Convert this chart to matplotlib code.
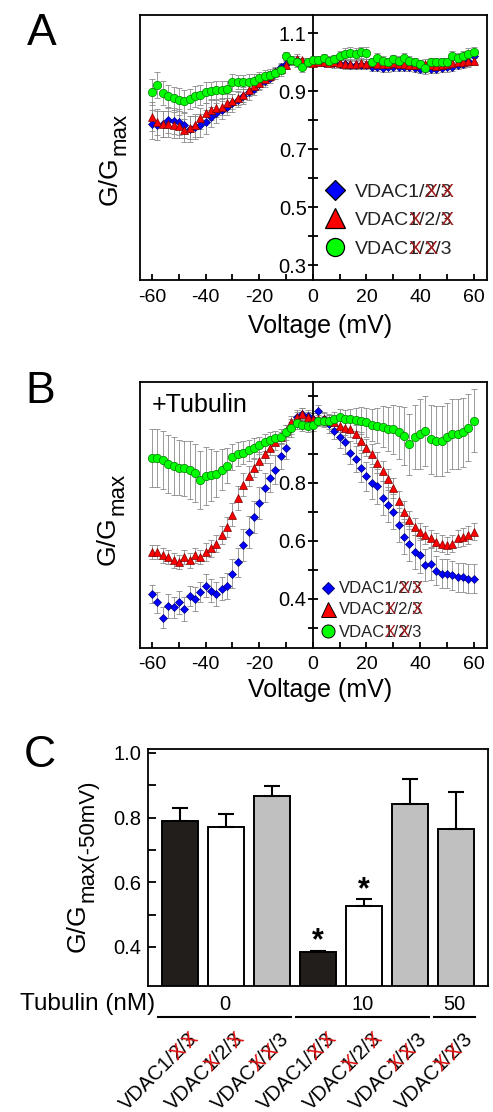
import numpy as np
import matplotlib
matplotlib.use("Agg")
import matplotlib.pyplot as plt
import matplotlib.transforms as mtransforms
from matplotlib.ticker import MultipleLocator, FixedLocator
from matplotlib.textpath import TextToPath
from matplotlib.font_manager import FontProperties

FONT = 'Liberation Sans'
plt.rcParams['font.family'] = [FONT, 'DejaVu Sans']
plt.rcParams['axes.unicode_minus'] = False

# --- voltage protocol (mV) ---
voltage = np.arange(-60, 61, 2)

# --- Panel A: no tubulin, G/Gmax ---
ga_v1 = [0.786, 0.782, 0.788, 0.800, 0.798, 0.794, 0.782, 0.770, 0.776, 0.782,
         0.794, 0.812, 0.824, 0.835, 0.847, 0.859, 0.871, 0.882, 0.896, 0.908,
         0.924, 0.935, 0.947, 0.965, 0.982, 0.994, 1.006, 1.008, 1.000, 1.000,
         1.000, 1.000, 0.998, 1.000, 0.996, 0.995, 0.993, 0.990, 0.990, 0.992,
         0.990, 0.985, 0.983, 0.980, 0.982, 0.984, 0.985, 0.985, 0.983, 0.980,
         0.978, 0.976, 0.977, 0.978, 0.980, 0.982, 0.985, 0.990, 0.995, 1.005,
         1.020]
ga_v2 = [0.812, 0.794, 0.788, 0.786, 0.782, 0.779, 0.765, 0.774, 0.782, 0.806,
         0.824, 0.835, 0.841, 0.847, 0.859, 0.865, 0.876, 0.888, 0.904, 0.918,
         0.929, 0.941, 0.953, 0.965, 0.976, 0.990, 1.006, 1.012, 1.006, 1.000,
         0.998, 1.000, 1.002, 0.998, 1.000, 0.997, 0.995, 0.993, 0.995, 0.997,
         0.995, 0.996, 0.995, 0.993, 0.995, 0.997, 0.995, 0.993, 0.990, 0.990,
         0.993, 0.995, 0.990, 0.988, 0.990, 0.995, 0.998, 1.000, 1.000, 1.003,
         1.005]
ga_v3 = [0.896, 0.920, 0.894, 0.882, 0.876, 0.870, 0.865, 0.873, 0.882, 0.888,
         0.896, 0.902, 0.904, 0.904, 0.906, 0.930, 0.932, 0.932, 0.933, 0.935,
         0.947, 0.953, 0.955, 0.962, 0.974, 1.021, 1.006, 1.000, 0.982, 1.000,
         1.006, 1.008, 1.013, 1.005, 1.010, 1.022, 1.028, 1.032, 1.028, 1.034,
         1.032, 1.000, 1.016, 1.005, 1.000, 1.010, 1.005, 1.016, 1.005, 1.000,
         0.993, 0.981, 1.001, 1.000, 1.001, 1.000, 1.022, 1.016, 1.022, 1.028,
         1.034]
ga_e1 = [0.05, 0.05, 0.045, 0.045, 0.045, 0.045, 0.045, 0.045, 0.04, 0.04,
         0.04, 0.035, 0.035, 0.03, 0.03, 0.03, 0.025, 0.025, 0.025, 0.02,
         0.02, 0.02, 0.02, 0.015, 0.015, 0.015, 0.015, 0.015, 0.015, 0.015,
         0.01, 0.01, 0.01, 0.01, 0.015, 0.015, 0.015, 0.015, 0.015, 0.015,
         0.015, 0.015, 0.015, 0.015, 0.015, 0.015, 0.015, 0.015, 0.015, 0.015,
         0.015, 0.015, 0.015, 0.015, 0.015, 0.015, 0.015, 0.015, 0.015, 0.02,
         0.02]
ga_e2 = [0.05, 0.045, 0.045, 0.045, 0.045, 0.04, 0.04, 0.04, 0.04, 0.035,
         0.035, 0.035, 0.03, 0.03, 0.03, 0.025, 0.025, 0.025, 0.02, 0.02,
         0.02, 0.02, 0.015, 0.015, 0.015, 0.015, 0.015, 0.015, 0.01, 0.01,
         0.01, 0.01, 0.01, 0.01, 0.01, 0.01, 0.015, 0.015, 0.015, 0.015,
         0.015, 0.015, 0.015, 0.015, 0.015, 0.015, 0.015, 0.015, 0.015, 0.015,
         0.015, 0.015, 0.015, 0.015, 0.015, 0.015, 0.015, 0.015, 0.015, 0.015,
         0.015]
ga_e3 = [0.045, 0.045, 0.04, 0.04, 0.04, 0.04, 0.04, 0.035, 0.035, 0.035,
         0.035, 0.03, 0.03, 0.03, 0.03, 0.03, 0.025, 0.025, 0.025, 0.025,
         0.02, 0.02, 0.02, 0.02, 0.02, 0.015, 0.015, 0.015, 0.015, 0.015,
         0.015, 0.015, 0.015, 0.015, 0.015, 0.015, 0.02, 0.02, 0.02, 0.02,
         0.02, 0.015, 0.015, 0.015, 0.015, 0.015, 0.015, 0.015, 0.015, 0.015,
         0.015, 0.015, 0.015, 0.015, 0.015, 0.015, 0.015, 0.015, 0.015, 0.02,
         0.02]

# --- Panel B: +tubulin, G/Gmax ---
gb_v1 = [0.417, 0.388, 0.336, 0.376, 0.371, 0.388, 0.365, 0.411, 0.400, 0.423,
         0.446, 0.429, 0.417, 0.435, 0.446, 0.487, 0.527, 0.585, 0.632, 0.684,
         0.730, 0.783, 0.817, 0.846, 0.893, 0.922, 0.990, 1.026, 1.038, 1.030,
         1.020, 1.047, 1.020, 1.003, 0.980, 0.957, 0.940, 0.904, 0.881, 0.852,
         0.823, 0.800, 0.788, 0.748, 0.725, 0.701, 0.655, 0.614, 0.591, 0.562,
         0.550, 0.516, 0.521, 0.498, 0.487, 0.487, 0.481, 0.475, 0.475, 0.469,
         0.469]
gb_v2 = [0.562, 0.562, 0.550, 0.545, 0.533, 0.527, 0.545, 0.533, 0.550, 0.545,
         0.562, 0.574, 0.591, 0.620, 0.649, 0.690, 0.748, 0.794, 0.823, 0.852,
         0.875, 0.899, 0.922, 0.940, 0.957, 0.980, 1.009, 1.026, 1.038, 1.026,
         1.020, 1.020, 1.020, 1.015, 1.009, 0.997, 0.990, 0.985, 0.968, 0.945,
         0.922, 0.899, 0.870, 0.840, 0.812, 0.783, 0.736, 0.701, 0.672, 0.649,
         0.632, 0.620, 0.609, 0.597, 0.591, 0.585, 0.591, 0.609, 0.614, 0.620,
         0.632]
gb_v3 = [0.885, 0.887, 0.880, 0.866, 0.858, 0.852, 0.850, 0.846, 0.835, 0.810,
         0.823, 0.827, 0.830, 0.846, 0.860, 0.890, 0.900, 0.904, 0.912, 0.920,
         0.930, 0.940, 0.947, 0.954, 0.960, 0.974, 0.990, 1.005, 1.000, 0.997,
         1.000, 1.015, 1.012, 1.012, 1.020, 1.026, 1.020, 1.020, 1.018, 1.015,
         1.009, 1.000, 0.997, 0.994, 0.985, 0.985, 0.974, 0.962, 0.933, 0.957,
         0.968, 0.980, 0.950, 0.945, 0.945, 0.957, 0.968, 0.968, 0.974, 0.990,
         1.015]
gb_e1 = [0.03, 0.035, 0.035, 0.04, 0.035, 0.04, 0.04, 0.035, 0.04, 0.035,
         0.04, 0.04, 0.04, 0.04, 0.045, 0.05, 0.05, 0.055, 0.055, 0.055,
         0.055, 0.05, 0.05, 0.05, 0.045, 0.04, 0.03, 0.025, 0.02, 0.02,
         0.02, 0.02, 0.025, 0.03, 0.03, 0.035, 0.04, 0.04, 0.045, 0.05,
         0.05, 0.055, 0.06, 0.06, 0.06, 0.06, 0.06, 0.06, 0.06, 0.06,
         0.06, 0.055, 0.055, 0.05, 0.05, 0.05, 0.05, 0.05, 0.05, 0.05,
         0.05]
gb_e2 = [0.025, 0.025, 0.025, 0.025, 0.025, 0.025, 0.025, 0.025, 0.025, 0.025,
         0.03, 0.03, 0.03, 0.03, 0.035, 0.04, 0.04, 0.04, 0.035, 0.03,
         0.03, 0.03, 0.025, 0.025, 0.02, 0.02, 0.02, 0.02, 0.02, 0.02,
         0.02, 0.02, 0.02, 0.02, 0.02, 0.02, 0.025, 0.025, 0.03, 0.03,
         0.03, 0.035, 0.035, 0.035, 0.035, 0.035, 0.035, 0.035, 0.03, 0.03,
         0.03, 0.03, 0.03, 0.03, 0.03, 0.03, 0.03, 0.03, 0.03, 0.03,
         0.03]
gb_e3 = [0.1, 0.1, 0.1, 0.1, 0.1, 0.095, 0.095, 0.1, 0.1, 0.1,
         0.1, 0.09, 0.08, 0.07, 0.06, 0.045, 0.04, 0.04, 0.035, 0.035,
         0.03, 0.03, 0.03, 0.025, 0.025, 0.025, 0.02, 0.02, 0.02, 0.02,
         0.02, 0.02, 0.02, 0.025, 0.025, 0.03, 0.03, 0.035, 0.04, 0.045,
         0.05, 0.055, 0.06, 0.07, 0.075, 0.085, 0.09, 0.1, 0.105, 0.11,
         0.12, 0.12, 0.12, 0.12, 0.12, 0.12, 0.12, 0.12, 0.12, 0.115,
         0.11]

# --- Panel C: G/Gmax at -50 mV ---
bar_vals = [0.790, 0.770, 0.868, 0.385, 0.526, 0.843, 0.766]
bar_errs = [0.040, 0.040, 0.030, 0.003, 0.021, 0.077, 0.114]
bar_isoform = [1, 2, 3, 1, 2, 3, 3]
bar_signif = [False, False, False, True, True, False, False]
tubulin_groups = ['0', '10', '50']
group_members = [[0, 1, 2], [3, 4, 5], [6]]

ISO_STYLE = {
    1: dict(marker='D', color='#0000ff', edge='#00007a', ms=4.2, bar='#221e1b'),
    2: dict(marker='^', color='#ff0000', edge='#7a0000', ms=6.0, bar='white'),
    3: dict(marker='o', color='#00ff00', edge='#007a00', ms=6.0, bar='#c0c0c0'),
}
CROSSED = {1: (2, 3), 2: (1, 3), 3: (1, 2)}

t2p = TextToPath()


def text_w(s, size):
    return t2p.get_text_width_height_descent(
        s, FontProperties(family=FONT, size=size), ismath=False)[0]


def vdac_label(ax, x, y, iso, size, transform, rot=0, ha='left',
               xcolor='#b01818', dcolor='k'):
    """VDAC1/2/3 with the missing isoforms crossed out in red."""
    s = 'VDAC1/2/3'
    pos = {1: 4, 2: 6, 3: 8}
    total = text_w(s, size)
    start = -total if ha == 'right' else 0.0
    c, sn = np.cos(np.radians(rot)), np.sin(np.radians(rot))
    ax.text(x, y, s, transform=transform, fontsize=size, rotation=rot,
            rotation_mode='anchor', ha=ha, va='baseline', color=dcolor,
            clip_on=False)
    for k in CROSSED[iso]:
        i = pos[k]
        d = start + text_w(s[:i + 1], size) - 0.5 * text_w(s[i], size)
        tr = mtransforms.offset_copy(transform, fig=ax.figure, x=d * c,
                                     y=d * sn, units='points')
        ax.text(x, y, 'X', transform=tr, fontsize=size, color=xcolor,
                rotation=rot, rotation_mode='anchor', ha='center',
                va='baseline', clip_on=False)


def g_label(ax, x, y, sub, transform, size=19, subsize=16, shift=6):
    """Vertical 'G/G' label with a large subscript, baseline start at x, y."""
    ax.text(x, y, 'G/G', transform=transform, fontsize=size, rotation=90,
            rotation_mode='anchor', ha='left', va='baseline', clip_on=False)
    d = text_w('G/G', size) + 1.0
    tr = mtransforms.offset_copy(transform, fig=ax.figure, x=shift, y=d,
                                 units='points')
    ax.text(x, y, sub, transform=tr, fontsize=subsize, rotation=90,
            rotation_mode='anchor', ha='left', va='baseline', clip_on=False)


def iv_axes(ax, vals, errs, ylim, major, minor, labeled):
    for iso, v, e in zip((1, 2, 3), vals, errs):
        ax.errorbar(voltage, v, yerr=e, fmt='none', ecolor='#8a8a8a',
                    elinewidth=0.6, capsize=2, capthick=0.6, zorder=2)
    for iso, v in zip((1, 2, 3), vals):
        st = ISO_STYLE[iso]
        ax.plot(voltage, v, ls='none', marker=st['marker'], ms=st['ms'],
                mfc=st['color'], mec=st['edge'], mew=0.5, zorder=4)
    ax.set_xlim(-64.5, 65)
    ax.set_ylim(*ylim)
    ax.spines['left'].set_position(('data', 0))
    for sp in ax.spines.values():
        sp.set_linewidth(1.3)
    ax.plot([0, 0], [0, 1], transform=ax.transAxes, color='k', lw=1.3,
            clip_on=False, zorder=5)
    ax.xaxis.set_major_locator(MultipleLocator(20))
    ax.xaxis.set_minor_locator(MultipleLocator(10))
    ax.yaxis.set_major_locator(FixedLocator(major))
    ax.yaxis.set_minor_locator(FixedLocator(minor))
    ax.set_yticklabels(labeled)
    ax.tick_params(axis='y', which='both', direction='inout', length=7,
                   width=1.3, pad=1, labelsize=14.5)
    ax.tick_params(axis='x', which='both', direction='in', length=4,
                   width=1.3, pad=6, labelsize=14)
    ax.tick_params(top=False, right=False)


fig = plt.figure(figsize=(4.93, 11.12), dpi=100)

# ---------------- Panel A ----------------
axA = fig.add_axes([0.284, 0.748, 0.704, 0.2383])
iv_axes(axA, [ga_v1, ga_v2, ga_v3], [ga_e1, ga_e2, ga_e3], (0.248, 1.162),
        [0.3, 0.5, 0.7, 0.9, 1.1], [0.4, 0.6, 0.8, 1.0],
        ['0.3', '0.5', '0.7', '0.9', '1.1'])
g_label(axA, -0.066, 0.283, 'max', axA.transAxes)
axA.text(0.52, -0.174, 'Voltage (mV)', transform=axA.transAxes,
         ha='center', va='center', fontsize=18)
leg_a = {1: 10.5, 2: 15, 3: 13}
for iso, ym, yt in zip((1, 2, 3), (0.34, 0.234, 0.125), (0.313, 0.208, 0.098)):
    st = ISO_STYLE[iso]
    axA.plot([0.562], [ym], transform=axA.transAxes, ls='none',
             marker=st['marker'], ms=leg_a[iso], mfc=st['color'], mec='k',
             mew=0.9, clip_on=False, zorder=6)
    vdac_label(axA, 0.62, yt, iso, 14, axA.transAxes, xcolor='#a01c1c',
               dcolor='#222222')

# ---------------- Panel B ----------------
axB = fig.add_axes([0.284, 0.4173, 0.704, 0.2392])
iv_axes(axB, [gb_v1, gb_v2, gb_v3], [gb_e1, gb_e2, gb_e3], (0.231, 1.148),
        [0.4, 0.6, 0.8], [0.3, 0.5, 0.7, 0.9, 1.0, 1.1],
        ['0.4', '0.6', '0.8'])
g_label(axB, -0.072, 0.312, 'max', axB.transAxes)
axB.text(0.52, -0.158, 'Voltage (mV)', transform=axB.transAxes,
         ha='center', va='center', fontsize=18)
axB.text(0.035, 0.915, '+Tubulin', transform=axB.transAxes, ha='left',
         va='center', fontsize=18)
leg_b = {1: 6.6, 2: 10.8, 3: 9.4}
for iso, ym, yt in zip((1, 2, 3), (0.226, 0.147, 0.064), (0.205, 0.126, 0.043)):
    st = ISO_STYLE[iso]
    axB.plot([0.542], [ym], transform=axB.transAxes, ls='none',
             marker=st['marker'], ms=leg_b[iso], mfc=st['color'],
             mec=st['edge'] if iso == 1 else 'k', mew=0.7, clip_on=False,
             zorder=6)
    vdac_label(axB, 0.573, yt, iso, 12, axB.transAxes, xcolor='#a01c1c',
               dcolor='#222222')

# ---------------- Panel C ----------------
axC = fig.add_axes([0.300, 0.1133, 0.690, 0.2131])
xpos = np.arange(len(bar_vals))
colors = [ISO_STYLE[i]['bar'] for i in bar_isoform]
axC.bar(xpos, bar_vals, width=0.8, color=colors, edgecolor='k',
        linewidth=1.4, zorder=2)
axC.errorbar(xpos, bar_vals, yerr=[np.zeros(len(bar_errs)), bar_errs],
             fmt='none', ecolor='k', elinewidth=1.5, capsize=5.5,
             capthick=1.5, zorder=3)
for x, v, e, sig in zip(xpos, bar_vals, bar_errs, bar_signif):
    if sig:
        axC.text(x, v + e + 0.004, '*', ha='center', va='baseline',
                 fontsize=22, fontweight='bold')
axC.set_xlim(-0.7, 6.7)
axC.set_ylim(0.279, 1.012)
axC.set_xticks([])
axC.yaxis.set_major_locator(FixedLocator([0.4, 0.6, 0.8, 1.0]))
axC.yaxis.set_minor_locator(FixedLocator([0.5, 0.7, 0.9]))
axC.set_yticklabels(['0.4', '0.6', '0.8', '1.0'])
axC.tick_params(axis='y', which='both', direction='in', length=6, width=1.3,
                pad=5, labelsize=14.5)
for sp in axC.spines.values():
    sp.set_linewidth(1.3)
g_label(axC, -0.185, 0.143, 'max(-50mV)', axC.transAxes)

blend = mtransforms.blended_transform_factory(axC.transData, axC.transAxes)
axC.text(0.02, -0.101, 'Tubulin (nM)', transform=axC.transAxes, ha='right',
         va='baseline', fontsize=17.5)
for name, members in zip(tubulin_groups, group_members):
    x0, x1 = members[0] - 0.47, members[-1] + 0.42
    axC.plot([x0, x1], [-0.131, -0.131], transform=blend, color='k', lw=1.5,
             clip_on=False)
    axC.text((x0 + x1) / 2, -0.101, name, transform=blend, ha='center',
             va='baseline', fontsize=14.5)
for x, iso in zip(xpos, bar_isoform):
    vdac_label(axC, x + 0.4, -0.228, iso, 14.5, blend, rot=45, ha='right',
               xcolor='#e01010', dcolor='k')

# panel letters
fig.text(0.085, 0.970, 'A', fontsize=32, ha='center', va='center')
fig.text(0.081, 0.6475, 'B', fontsize=32, ha='center', va='center')
fig.text(0.081, 0.321, 'C', fontsize=32, ha='center', va='center')

fig.savefig('out.png', dpi=100)
